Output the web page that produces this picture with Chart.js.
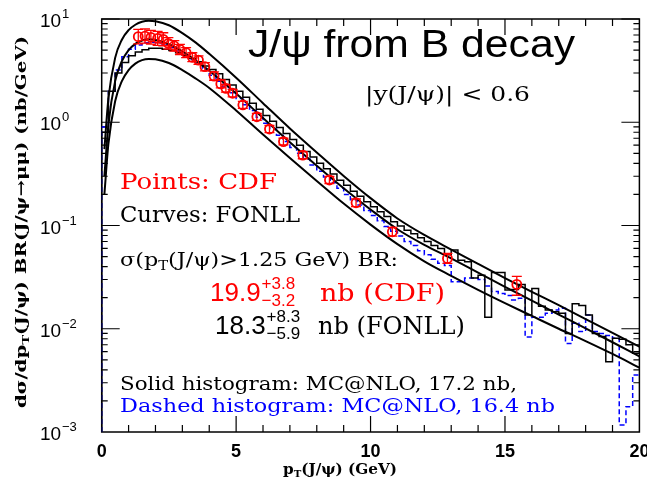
<!DOCTYPE html>
<html>
<head>
<meta charset="utf-8">
<script src="https://cdn.jsdelivr.net/npm/chart.js@4.4.1/dist/chart.umd.min.js"></script>
<style>
  html, body { margin: 0; padding: 0; background: #fff; }
</style>
</head>
<body>
<canvas id="grafico" width="647" height="482"></canvas>
<script>
// FONLL band: central value and upper/lower limits (nb/GeV)
const ptFonll = [0.1, 0.25, 0.5, 0.75, 1, 1.25, 1.5, 1.75, 2, 2.5, 3, 3.5, 4, 5, 6, 7, 8, 9, 10, 11, 12, 13, 14, 15, 16, 17, 18, 19, 20];
const fonllUp = [0.55, 1.7, 4.2, 6.3, 7.8, 8.8, 9.4, 9.6, 9.5, 8.7, 7.3, 5.9, 4.6, 2.7, 1.53, 0.87, 0.51, 0.302, 0.184, 0.117, 0.081, 0.0585, 0.0425, 0.031, 0.0228, 0.0169, 0.0124, 0.0091, 0.0067];
const fonllCen = [0.3, 0.95, 2.5, 3.9, 5.0, 5.75, 6.2, 6.35, 6.25, 5.7, 4.85, 3.95, 3.15, 1.9, 1.1, 0.64, 0.38, 0.23, 0.143, 0.092, 0.065, 0.048, 0.035, 0.0255, 0.0187, 0.0137, 0.0101, 0.0074, 0.0054];
const fonllLow = [0.2, 0.62, 1.6, 2.5, 3.2, 3.7, 4.0, 4.1, 4.07, 3.75, 3.2, 2.65, 2.15, 1.3, 0.76, 0.45, 0.27, 0.163, 0.102, 0.066, 0.045, 0.0325, 0.0238, 0.0177, 0.0133, 0.01, 0.0076, 0.0057, 0.0042];

// MC@NLO histograms, 0.25 GeV bins from 0 to 20 GeV
const binWidth = 0.25;
const mcSolid = [
  0.8, 2.0, 3.0, 3.8, 4.4, 4.8, 5.05, 5.2, 5.2, 5.1, 4.95, 4.7, 4.45, 4.15, 3.85, 3.5,
  3.25, 2.95, 2.6, 2.3, 2.0, 1.75, 1.53, 1.34, 1.16, 1.02, 0.89, 0.78, 0.68, 0.6, 0.52, 0.46,
  0.4, 0.355, 0.315, 0.275, 0.245, 0.215, 0.192, 0.17, 0.152, 0.136, 0.122, 0.109, 0.099, 0.09, 0.083, 0.076,
  0.07, 0.064, 0.06, 0.052, 0.058, 0.046, 0.0446, 0.031, 0.033, 0.0129, 0.035, 0.035, 0.0237, 0.024, 0.0268, 0.0136,
  0.0246, 0.0165, 0.0152, 0.0146, 0.0141, 0.009, 0.0175, 0.0168, 0.0136, 0.009, 0.0084, 0.0048, 0.0081, 0.0079, 0.007, 0.0058
];
const mcDashed = [
  0.9, 2.0, 3.2, 4.3, 5.1, 5.6, 5.9, 5.95, 5.85, 5.6, 5.3, 4.9, 4.5, 4.05, 3.65, 3.25,
  2.85, 2.5, 2.2, 1.93, 1.7, 1.48, 1.3, 1.12, 0.98, 0.86, 0.75, 0.65, 0.57, 0.5, 0.44, 0.385,
  0.335, 0.295, 0.26, 0.23, 0.2, 0.178, 0.158, 0.14, 0.125, 0.111, 0.098, 0.088, 0.079, 0.07, 0.064, 0.057,
  0.052, 0.047, 0.043, 0.041, 0.0286, 0.0286, 0.031, 0.031, 0.03, 0.026, 0.023, 0.022, 0.021, 0.019, 0.0197, 0.0083,
  0.0129, 0.0129, 0.0141, 0.0152, 0.0158, 0.0072, 0.0113, 0.0094, 0.0136, 0.0094, 0.009, 0.0086, 0.0081, 0.00117, 0.00176, 0.00357
];

// CDF measurement with asymmetric errors
const cdfPt = [1.36, 1.61, 1.83, 2.08, 2.29, 2.48, 2.70, 2.91, 3.14, 3.37, 3.60, 3.84, 4.18, 4.43, 4.62, 4.87, 5.25, 5.77, 6.24, 6.76, 7.48, 8.47, 9.46, 10.81, 12.86, 15.44];
const cdfVal = [6.74, 6.84, 6.65, 6.5, 6.36, 5.8, 5.48, 5.08, 4.72, 4.26, 4.0, 3.45, 2.8, 2.35, 2.13, 1.91, 1.47, 1.13, 0.86, 0.65, 0.48, 0.276, 0.166, 0.087, 0.048, 0.0269];
const cdfErrHi = [1.2, 1.2, 1.1, 1.1, 1.0, 0.8, 0.7, 0.6, 0.55, 0.45, 0.4, 0.33, 0.27, 0.22, 0.19, 0.17, 0.12, 0.09, 0.07, 0.05, 0.04, 0.023, 0.015, 0.009, 0.0057, 0.0053];
const cdfErrLo = [1.0, 1.0, 0.95, 0.95, 0.85, 0.7, 0.6, 0.55, 0.5, 0.4, 0.37, 0.3, 0.25, 0.2, 0.17, 0.15, 0.11, 0.085, 0.065, 0.047, 0.037, 0.021, 0.014, 0.008, 0.005, 0.0058];

// axis ticks
const xTicks = [0, 5, 10, 15, 20];
const yDecades = [-3, -2, -1, 0, 1];

const RED = "#ff0000";
const BLUE = "#0000ff";
const SERIF = '"DejaVu Serif"';
const SANS = '"Liberation Sans"';

function histPoints(vals) {
  const pts = [{ x: 0, y: 0.001 }];
  vals.forEach((v, i) => pts.push({ x: i * binWidth, y: v }));
  pts.push({ x: vals.length * binWidth, y: vals[vals.length - 1] });
  return pts;
}

function curvePoints(vals) {
  return ptFonll.map((p, i) => ({ x: p, y: vals[i] }));
}

// draws a row of text pieces, optionally squeezed to a given width
function drawRuns(ctx, x, y, parts, width) {
  let total = 0;
  parts.forEach(p => { ctx.font = p.font; total += ctx.measureText(p.t).width; });
  const k = width ? width / total : 1;
  ctx.save();
  ctx.translate(x, y);
  ctx.scale(k, 1);
  let cx = 0;
  parts.forEach(p => {
    ctx.font = p.font;
    ctx.fillStyle = p.color || "#000";
    ctx.fillText(p.t, cx, p.dy || 0);
    cx += ctx.measureText(p.t).width;
  });
  ctx.restore();
}

// value with stacked +up / -down errors
function drawResult(ctx, x, y, val, up, down, color) {
  ctx.fillStyle = color;
  ctx.font = `26px ${SANS}`;
  ctx.fillText(val, x, y);
  const w = ctx.measureText(val).width;
  ctx.font = `17px ${SANS}`;
  ctx.fillText(up, x + w + 1, y - 12);
  ctx.fillText(down, x + w + 1, y + 5);
}

const framePlugin = {
  id: "frame",
  beforeDatasetsDraw(chart) {
    const ctx = chart.ctx;
    const ca = chart.chartArea;
    const xs = chart.scales.x;
    const ys = chart.scales.y;
    ctx.save();
    ctx.strokeStyle = "#000";
    ctx.lineWidth = 1.5;
    ctx.strokeRect(ca.left, ca.top, ca.right - ca.left, ca.bottom - ca.top);
    ctx.lineWidth = 1.2;
    ctx.beginPath();
    for (let v = 1; v < 20; v++) {
      const px = xs.getPixelForValue(v);
      const len = v % 5 === 0 ? 16 : 7;
      ctx.moveTo(px, ca.bottom); ctx.lineTo(px, ca.bottom - len);
      ctx.moveTo(px, ca.top); ctx.lineTo(px, ca.top + len);
    }
    yDecades.forEach(d => {
      for (let m = 1; m <= 9; m++) {
        const v = m * Math.pow(10, d);
        if (v > 10 || (d === -3 && m === 1)) continue;
        const py = ys.getPixelForValue(v);
        const len = m === 1 ? 18 : 6;
        ctx.moveTo(ca.left, py); ctx.lineTo(ca.left + len, py);
        ctx.moveTo(ca.right, py); ctx.lineTo(ca.right - len, py);
      }
    });
    ctx.stroke();
    ctx.restore();
  }
};

const textPlugin = {
  id: "texts",
  afterDatasetsDraw(chart) {
    const ctx = chart.ctx;
    const ca = chart.chartArea;
    const xs = chart.scales.x;
    const ys = chart.scales.y;

    // CDF error bars
    ctx.save();
    ctx.strokeStyle = RED;
    ctx.lineWidth = 1.3;
    ctx.beginPath();
    cdfPt.forEach((p, i) => {
      const px = xs.getPixelForValue(p);
      const yHi = ys.getPixelForValue(cdfVal[i] + cdfErrHi[i]);
      const yLo = ys.getPixelForValue(cdfVal[i] - cdfErrLo[i]);
      ctx.moveTo(px, yHi); ctx.lineTo(px, yLo);
      ctx.moveTo(px - 5, yHi); ctx.lineTo(px + 5, yHi);
      ctx.moveTo(px - 5, yLo); ctx.lineTo(px + 5, yLo);
    });
    ctx.stroke();
    ctx.restore();

    ctx.save();
    ctx.textBaseline = "alphabetic";

    // tick labels
    ctx.fillStyle = "#000";
    ctx.font = `bold 18px ${SANS}`;
    ctx.textAlign = "center";
    xTicks.forEach(v => ctx.fillText(String(v), xs.getPixelForValue(v), ca.bottom + 25));
    ctx.textAlign = "left";
    yDecades.forEach(d => {
      const py = ys.getPixelForValue(Math.pow(10, d));
      ctx.font = `19px ${SANS}`;
      ctx.fillText("10", 40, py + 8);
      ctx.font = `13px ${SANS}`;
      ctx.fillText(d < 0 ? "\u2212" + (-d) : String(d), 62, py - 1);
    });

    // axis titles
    drawRuns(ctx, 283, 474, [
      { t: "p", font: `bold 15px ${SERIF}` },
      { t: "T", font: `bold 10px ${SERIF}`, dy: 3 },
      { t: "(J/\u03c8) (GeV)", font: `bold 15px ${SERIF}` }
    ], 114);
    ctx.save();
    ctx.translate(26, 408);
    ctx.rotate(-Math.PI / 2);
    drawRuns(ctx, 0, 0, [
      { t: "d\u03c3/dp", font: `bold 15px ${SERIF}` },
      { t: "T", font: `bold 10px ${SERIF}`, dy: 3 },
      { t: "(J/\u03c8) BR(J/\u03c8\u2192\u03bc\u03bc) (nb/GeV)", font: `bold 15px ${SERIF}` }
    ], 372);
    ctx.restore();

    // annotations inside the frame
    drawRuns(ctx, 248, 57, [{ t: "J/\u03c8 from B decay", font: `38px ${SANS}` }], 327);
    drawRuns(ctx, 365, 101, [{ t: "|y(J/\u03c8)| < 0.6", font: `21px ${SERIF}` }], 165);
    drawRuns(ctx, 120, 189, [{ t: "Points: CDF", font: `23px ${SERIF}`, color: RED }], 157);
    drawRuns(ctx, 120, 222, [{ t: "Curves: FONLL", font: `23px ${SERIF}` }], 180);
    drawRuns(ctx, 120, 266, [
      { t: "\u03c3(p", font: `18px ${SERIF}` },
      { t: "T", font: `12px ${SERIF}`, dy: 4 },
      { t: "(J/\u03c8)>1.25 GeV) BR:", font: `18px ${SERIF}` }
    ], 278);
    drawResult(ctx, 210, 301, "19.9", "+3.8", "\u22123.2", RED);
    drawRuns(ctx, 320, 301, [{ t: "nb (CDF)", font: `24px ${SERIF}`, color: RED }], 125);
    drawResult(ctx, 215, 334, "18.3", "+8.3", "\u22125.9", "#000");
    drawRuns(ctx, 318, 334, [{ t: "nb (FONLL)", font: `24px ${SERIF}` }], 147);
    drawRuns(ctx, 120, 390, [{ t: "Solid histogram: MC@NLO, 17.2 nb,", font: `19px ${SERIF}` }], 397);
    drawRuns(ctx, 120, 412, [{ t: "Dashed histogram: MC@NLO, 16.4 nb", font: `19px ${SERIF}`, color: BLUE }], 435);
    ctx.restore();
  }
};

const chart = new Chart(document.getElementById("grafico"), {
  type: "line",
  data: {
    datasets: [
      {
        data: cdfPt.map((p, i) => ({ x: p, y: cdfVal[i] })),
        showLine: false,
        pointStyle: "circle",
        pointRadius: 4.5,
        pointBorderWidth: 1.8,
        pointBorderColor: RED,
        pointBackgroundColor: "rgba(0,0,0,0)"
      },
      { data: curvePoints(fonllUp), borderColor: "#000", borderWidth: 2, pointRadius: 0, cubicInterpolationMode: "monotone" },
      { data: curvePoints(fonllCen), borderColor: "#000", borderWidth: 2, pointRadius: 0, cubicInterpolationMode: "monotone" },
      { data: curvePoints(fonllLow), borderColor: "#000", borderWidth: 2, pointRadius: 0, cubicInterpolationMode: "monotone" },
      { data: histPoints(mcSolid), borderColor: "#000", borderWidth: 1.5, pointRadius: 0, stepped: "before" },
      { data: histPoints(mcDashed), borderColor: BLUE, borderWidth: 1.5, borderDash: [5, 3], pointRadius: 0, stepped: "before" }
    ]
  },
  options: {
    responsive: false,
    animation: false,
    layout: { padding: { top: 19, right: 7.6, left: 0, bottom: 0 } },
    plugins: { legend: { display: false }, tooltip: { enabled: false } },
    scales: {
      x: {
        type: "linear", min: 0, max: 20,
        grid: { display: false }, border: { display: false },
        ticks: { display: false },
        afterFit: s => { s.height = 50; }
      },
      y: {
        type: "logarithmic", min: 0.001, max: 10,
        grid: { display: false }, border: { display: false },
        ticks: { display: false },
        afterFit: s => { s.width = 101.7; }
      }
    }
  },
  plugins: [framePlugin, textPlugin]
});
</script>
</body>
</html>
